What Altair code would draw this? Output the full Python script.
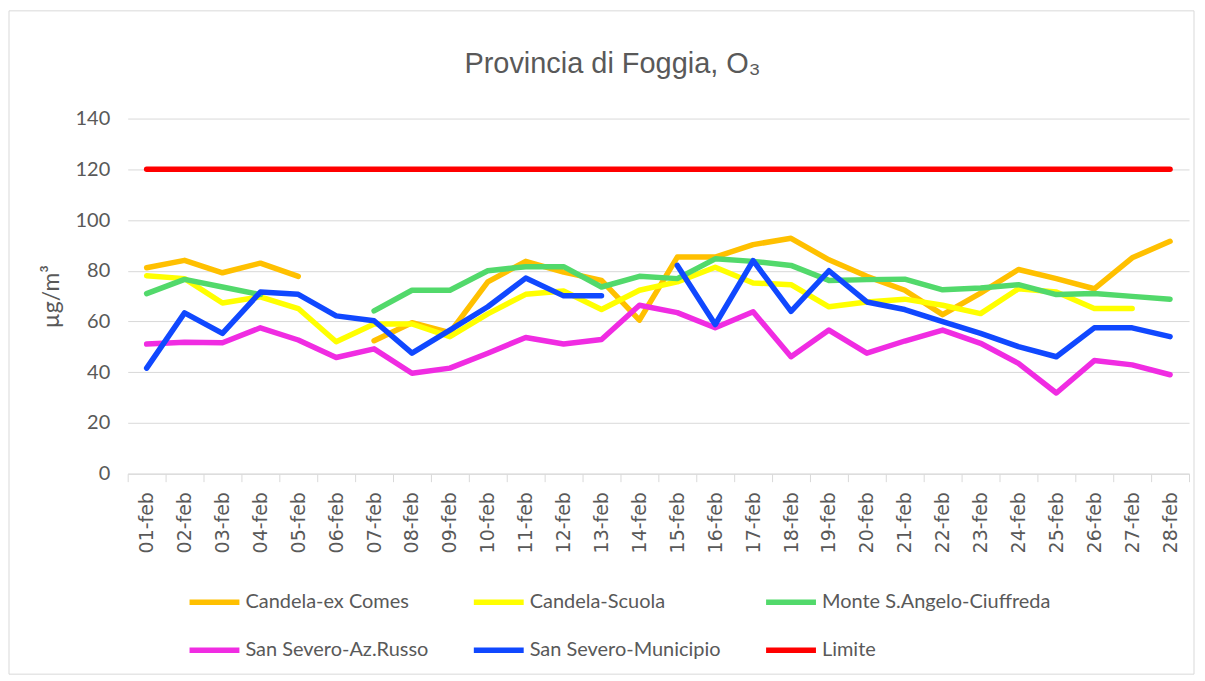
import altair as alt
import pandas as pd

dates = ["01-feb", "02-feb", "03-feb", "04-feb", "05-feb", "06-feb", "07-feb",
         "08-feb", "09-feb", "10-feb", "11-feb", "12-feb", "13-feb", "14-feb",
         "15-feb", "16-feb", "17-feb", "18-feb", "19-feb", "20-feb", "21-feb",
         "22-feb", "23-feb", "24-feb", "25-feb", "26-feb", "27-feb", "28-feb"]

series_names = ["Candela-ex Comes", "Candela-Scuola", "Monte S.Angelo-Ciuffreda",
                "San Severo-Az.Russo", "San Severo-Municipio", "Limite"]
series_colors = ["#FFC000", "#FFFF00", "#52D96B", "#F02CE2", "#1048FF", "#FF0000"]

candela_ex_comes = [81.2, 84.1, 79.2, 83.0, 77.8, None, 52.4, 59.5, 55.6, 75.6,
                    83.7, 79.5, 76.2, 60.5, 85.4, 85.4, 90.3, 92.8, 84.3, 77.8,
                    72.3, 62.7, 71.2, 80.5, 76.9, 72.9, 85.1, 91.6]
candela_scuola = [78.0, 76.9, 67.3, 69.7, 65.1, 52.0, 59.0, 59.0, 54.0, 63.0,
                  70.7, 72.0, 64.7, 72.3, 75.6, 81.4, 75.2, 74.5, 65.8, 67.7,
                  68.8, 66.4, 63.1, 72.9, 71.6, 65.1, 65.1, None]
monte_s_angelo = [71.0, 76.6, 73.6, 70.6, None, None, 64.2, 72.3, 72.3, 80.0,
                  81.6, 81.6, 73.6, 77.8, 76.9, 84.7, 83.7, 82.1, 76.2, 76.5,
                  76.7, 72.5, 73.2, 74.5, 70.6, 71.0, 69.9, 68.8]
az_russo = [51.1, 51.8, 51.6, 57.5, 52.7, 45.8, 49.2, 39.6, 41.6, 47.5,
            53.7, 51.1, 52.9, 66.4, 63.5, 57.5, 63.8, 46.1, 56.6, 47.5,
            52.3, 56.6, 51.4, 43.5, 31.8, 44.6, 42.9, 39.0]
municipio = [41.6, 63.4, 55.3, 71.6, 70.7, 62.2, 60.3, 47.5, 56.6, 65.8,
             77.1, 70.1, 70.1, None, 82.1, 58.8, 84.0, 64.0, 80.0, 67.7,
             64.7, 59.9, 55.3, 50.1, 46.1, 57.5, 57.5, 54.0]
limite = [120, 120, 120, 120, 120, 120, 120, 120, 120, 120, 120, 120, 120, 120,
          120, 120, 120, 120, 120, 120, 120, 120, 120, 120, 120, 120, 120, 120]

y_ticks = [0, 20, 40, 60, 80, 100, 120, 140]
title_text = "Provincia di Foggia, O₃"

all_series = [candela_ex_comes, candela_scuola, monte_s_angelo, az_russo, municipio, limite]
rows = []
for name, vals in zip(series_names, all_series):
    for d, v in zip(dates, vals):
        rows.append({"serie": name, "data": d, "valore": v})
df = pd.DataFrame(rows)

GRAY = "#595959"
LIGHT = "#d9d9d9"
FONT = "Lato"

border = alt.Chart(alt.Data(values=[{"k": 1}])).mark_rect(
    filled=False, stroke=LIGHT, strokeWidth=1
).encode(
    x=alt.value(-119), x2=alt.value(1069), y=alt.value(-108), y2=alt.value(557)
)

title = alt.Chart(alt.Data(values=[{"t": title_text}])).mark_text(
    font="Liberation Sans", fontSize=29, color=GRAY, align="center",
    baseline="alphabetic"
).encode(
    text="t:N", x=alt.value(486), y=alt.value(-46)
)

lines = alt.Chart(df).mark_line(
    strokeWidth=5.5, strokeCap="round", strokeJoin="round",
    invalid="break-paths-show-domains"
).encode(
    x=alt.X("data:N",
            scale=alt.Scale(type="band", domain=dates, paddingInner=0, paddingOuter=0),
            bandPosition=0.5,
            axis=alt.Axis(title=None, labelAngle=270, labelFont="DejaVu Sans",
                          labelFontSize=19, labelColor=GRAY, domainColor=LIGHT,
                          tickColor=LIGHT, tickSize=8, labelPadding=10, grid=False,
                          tickBand="extent")),
    y=alt.Y("valore:Q",
            scale=alt.Scale(domain=[0, 140], nice=False),
            axis=alt.Axis(values=y_ticks, title="µg/m³", domain=False, ticks=False,
                          grid=True, gridColor=LIGHT, labelFont=FONT,
                          labelFontSize=20, labelColor=GRAY, labelPadding=18,
                          titleFont=FONT, titleFontSize=23,
                          titleFontWeight="normal", titleColor=GRAY, titlePadding=12)),
    color=alt.Color("serie:N",
                    scale=alt.Scale(domain=series_names, range=series_colors),
                    legend=alt.Legend(title=None, orient="none", legendX=59, legendY=473,
                                      columns=3, direction="horizontal", gridAlign="each",
                                      symbolType="stroke", symbolSize=2500,
                                      symbolStrokeWidth=5.5, labelFont=FONT,
                                      labelFontSize=20, labelColor=GRAY, labelOffset=3,
                                      labelLimit=400, columnPadding=42, rowPadding=24,
                                      clipHeight=24, padding=0)),
)

chart = alt.layer(border, title, lines).properties(
    width=1064, height=356,
    autosize=alt.AutoSizeParams(type="none"),
    padding={"left": 120, "top": 110, "right": 8, "bottom": 202},
    background="white",
).configure_view(stroke="transparent")

chart.save("out.html", embed_options={"renderer": "svg", "actions": False})
